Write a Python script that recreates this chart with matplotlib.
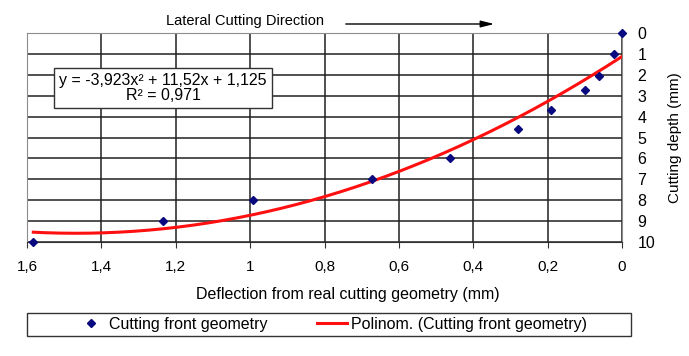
import numpy as np
import matplotlib
matplotlib.use("Agg")
from matplotlib import pyplot as plt
from matplotlib.lines import Line2D
from matplotlib.patches import Rectangle

plt.rcParams['font.family'] = ['Liberation Sans', 'DejaVu Sans']

# measured points: deflection (mm) vs cutting depth (mm)
deflection = [0.0, 0.021, 0.063, 0.099, 0.191, 0.280, 0.462, 0.672, 0.991, 1.233, 1.583]
depth = [0.0, 1.0, 2.05, 2.75, 3.68, 4.6, 6.0, 7.0, 8.0, 9.0, 10.0]

# trendline coefficients as printed on the chart
poly_coef = [-3.923, 11.52, 1.125]
eq_text = "y = -3,923x\u00b2 + 11,52x + 1,125\nR\u00b2 = 0,971"

x_ticks = [1.6, 1.4, 1.2, 1.0, 0.8, 0.6, 0.4, 0.2, 0.0]
x_labels = ["1,6", "1,4", "1,2", "1", "0,8", "0,6", "0,4", "0,2", "0"]
y_ticks = list(range(0, 11))

fig = plt.figure(figsize=(6.89, 3.56), dpi=100)
ax = fig.add_axes([27/689, 1 - 242/356, (622-27)/689, (242-33)/356])

# trendline
xs = np.linspace(0, max(deflection), 200)
ax.plot(xs, np.polyval(poly_coef, xs), color='#ff1010', lw=2.2, zorder=3)
# points
ax.plot(deflection, depth, linestyle='none', marker='D', ms=4.5,
        color='#0a0a80', zorder=4, clip_on=False)

ax.set_xlim(1.6, 0)
ax.set_ylim(10, 0)
ax.set_xticks(x_ticks)
ax.set_xticklabels(x_labels, fontsize=11)
ax.set_yticks(y_ticks)
ax.yaxis.tick_right()
ax.yaxis.set_label_position('right')
ax.tick_params(axis='y', length=0, pad=11, labelsize=11.5)
ax.tick_params(axis='x', length=4, color='#333333', pad=9)
ax.grid(True, color='#202020', lw=1.1)
ax.set_axisbelow(True)
for s in ['top', 'left', 'right']:
    ax.spines[s].set_color('#8c8c8c')
ax.spines['bottom'].set_color('#333333')

ax.set_xlabel("Deflection from real cutting geometry (mm)", fontsize=11.5)
ax.xaxis.set_label_coords((348-27)/595, -(287-242)/209)
ax.set_ylabel("Cutting depth (mm)", fontsize=11, labelpad=9)

# equation box
ax.text(163/689, 1 - 88/356, eq_text, transform=fig.transFigure, ha='center', va='center',
        fontsize=11.5, linespacing=1.0, zorder=5,
        bbox=dict(boxstyle='square,pad=0.3', fc='white', ec='#333333', lw=1.0))

# cutting direction
fig.text(245/689, 1 - 21/356, "Lateral Cutting Direction", ha='center', va='center', fontsize=10.5)
ax.annotate("", xy=(497/689, 1 - 24/356), xytext=(343/689, 1 - 24/356),
            xycoords='figure fraction', textcoords='figure fraction',
            arrowprops=dict(arrowstyle='-|>,head_length=0.8,head_width=0.2',
                            color='black', lw=1.0))

# legend with its own frame
handles = [Line2D([], [], linestyle='none', marker='D', ms=4.5, color='#0a0a80'),
           Line2D([], [], color='#ff1010', lw=2.2)]
fig.legend(handles, ["Cutting front geometry", "Polinom. (Cutting front geometry)"],
           loc='center', bbox_to_anchor=(331/689, 1 - 324/356), ncol=2, frameon=False,
           fontsize=11.5, handlelength=1.9, handletextpad=0.2, columnspacing=3.1)
fig.patches.append(Rectangle((27/689, 1 - 336/356), (631-27)/689, 23/356,
                             transform=fig.transFigure, fill=False,
                             ec='#333333', lw=1.0))

fig.savefig("out.png", dpi=100)
